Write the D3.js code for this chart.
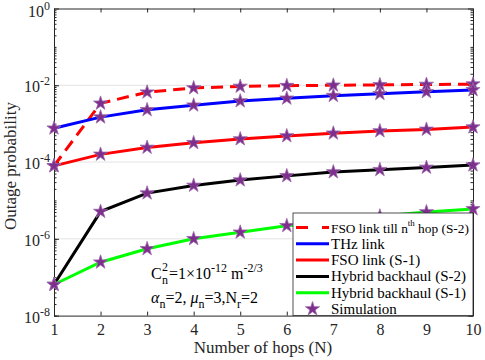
<!DOCTYPE html>
<html lang="en">
<head>
<meta charset="UTF-8">
<title>Outage probability vs number of hops</title>
<script src="https://d3js.org/d3.v7.min.js"></script>
<style>
  body { margin: 0; background: #fff; }
  svg, svg text { font-family: "Liberation Serif", "Times New Roman", Times, serif; }
</style>
</head>
<body>
<svg id="chart" width="485" height="360"></svg>
<script>
// Data (log10 of outage probability)
const hops = [1, 2, 3, 4, 5, 6, 7, 8, 9, 10];
const fsoTillN = [-4.10, -2.47, -2.18, -2.07, -2.03, -2.01, -2.00, -1.99, -1.98, -1.97];
const thzLink  = [-3.12, -2.83, -2.64, -2.52, -2.41, -2.34, -2.27, -2.22, -2.17, -2.12];
const fsoS1    = [-4.10, -3.80, -3.62, -3.50, -3.40, -3.32, -3.25, -3.19, -3.15, -3.09];
const hybS2    = [-7.19, -5.29, -4.81, -4.61, -4.47, -4.36, -4.26, -4.20, -4.14, -4.08];
const hybS1    = [-7.19, -6.61, -6.26, -6.00, -5.83, -5.66, -5.53, -5.41, -5.30, -5.22];
const yMajor = [-8, -6, -4, -2, 0];

const series = [
  { name: 'FSO link till n', sup: 'th', rest: ' hop (S-2)', vals: fsoTillN, color: '#ff0000', dash: '12,7' },
  { name: 'THz link', vals: thzLink, color: '#0000ff' },
  { name: 'FSO link (S-1)', vals: fsoS1, color: '#ff0000' },
  { name: 'Hybrid backhaul (S-2)', vals: hybS2, color: '#000000' },
  { name: 'Hybrid backhaul (S-1)', vals: hybS1, color: '#00ff00' }
];

const FONT = '"Liberation Serif", "Times New Roman", Times, serif';
const svg = d3.select('#chart').attr('font-family', FONT);
const pLeft = 54, pRight = 473, pTop = 8.5, pBottom = 315.6;

const x = d3.scaleLinear().domain([1, 10]).range([pLeft, pRight]);
const y = d3.scaleLog().domain([1e-8, 1]).range([pBottom, pTop]);

// grid lines at labelled decades
svg.append('g').selectAll('line')
  .data(yMajor.filter(d => d > -8 && d < 0))
  .enter().append('line')
  .attr('x1', pLeft).attr('x2', pRight)
  .attr('y1', d => y(Math.pow(10, d))).attr('y2', d => y(Math.pow(10, d)))
  .attr('stroke', '#e3e3e3').attr('stroke-width', 1);

// axes (ticks inward, box on)
const minor = [];
for (let e = -8; e < 0; e++) for (let m = 1; m < 10; m++) minor.push(m * Math.pow(10, e));

function styleAxis(g) {
  g.attr('font-family', FONT);
  g.select('.domain').attr('stroke', '#262626');
  g.selectAll('.tick line').attr('stroke', '#262626');
}

svg.append('g').attr('transform', `translate(0,${pBottom})`)
  .call(d3.axisBottom(x).tickValues(hops).tickSize(-4).tickSizeOuter(0).tickPadding(8).tickFormat(d3.format('d')))
  .call(styleAxis)
  .call(g => g.selectAll('text').attr('font-size', 16).attr('fill', '#262626'));

svg.append('g').attr('transform', `translate(0,${pTop})`)
  .call(d3.axisTop(x).tickValues(hops).tickSize(-4).tickSizeOuter(0).tickFormat(''))
  .call(styleAxis);

svg.append('g').attr('transform', `translate(${pLeft},0)`)
  .call(d3.axisLeft(y).tickValues(minor).tickSize(-2.5).tickSizeOuter(0).tickFormat(''))
  .call(styleAxis);
svg.append('g').attr('transform', `translate(${pRight},0)`)
  .call(d3.axisRight(y).tickValues(minor).tickSize(-2.5).tickSizeOuter(0).tickFormat(''))
  .call(styleAxis);
svg.append('g').attr('transform', `translate(${pLeft},0)`)
  .call(d3.axisLeft(y).tickValues(yMajor.map(d => Math.pow(10, d))).tickSize(-5).tickSizeOuter(0).tickFormat(''))
  .call(styleAxis);
svg.append('g').attr('transform', `translate(${pRight},0)`)
  .call(d3.axisRight(y).tickValues(yMajor.map(d => Math.pow(10, d))).tickSize(-5).tickSizeOuter(0).tickFormat(''))
  .call(styleAxis);

// y tick labels 10^k
const yl = svg.append('g').selectAll('text').data(yMajor).enter().append('text')
  .attr('x', pLeft - 4).attr('y', d => y(Math.pow(10, d)) + (d === 0 ? 8 : 7))
  .attr('text-anchor', 'end').attr('font-size', 16).attr('fill', '#262626');
yl.append('tspan').text('10');
yl.append('tspan').attr('dy', -7).attr('font-size', 12).text(d => d);

// curves
const line = d3.line().x((d, i) => x(hops[i])).y(d => y(Math.pow(10, d)));
series.forEach(s => {
  svg.append('path').datum(s.vals)
    .attr('d', line).attr('fill', 'none')
    .attr('stroke', s.color).attr('stroke-width', 3)
    .attr('stroke-dasharray', s.dash || null);
});

// simulation markers
const star = d3.symbol().type(d3.symbolStar).size(62);
series.forEach(s => {
  svg.append('g').selectAll('path').data(s.vals).enter().append('path')
    .attr('d', star)
    .attr('transform', (d, i) => `translate(${x(hops[i])},${y(Math.pow(10, d))})`)
    .attr('fill', '#7e2f8e').attr('stroke', '#9a68aa').attr('stroke-width', 0.8);
});

// annotation
const ann = svg.append('g').attr('font-size', 16).attr('fill', '#000');
ann.append('text').attr('x', 151).attr('y', 279).text('C');
ann.append('text').attr('x', 162).attr('y', 271).attr('font-size', 12).text('2');
ann.append('text').attr('x', 162).attr('y', 284).attr('font-size', 12).text('n');
const t1 = ann.append('text').attr('x', 169).attr('y', 279);
t1.append('tspan').text('=1\u00d710');
t1.append('tspan').attr('dy', -7).attr('font-size', 12).text('-12');
t1.append('tspan').attr('dy', 7).text(' m');
t1.append('tspan').attr('dy', -7).attr('font-size', 12).text('-2/3');

const t2 = ann.append('text').attr('x', 151).attr('y', 303);
t2.append('tspan').attr('font-style', 'italic').text('\u03b1');
t2.append('tspan').attr('dy', 5).attr('font-size', 12).text('n');
t2.append('tspan').attr('dy', -5).text('=2, ');
t2.append('tspan').attr('font-style', 'italic').text('\u03bc');
t2.append('tspan').attr('dy', 5).attr('font-size', 12).text('n');
t2.append('tspan').attr('dy', -5).text('=3,N');
t2.append('tspan').attr('dy', 5).attr('font-size', 12).text('r');
t2.append('tspan').attr('dy', -5).text('=2');

// axis titles
svg.append('text').attr('x', 263).attr('y', 353).attr('text-anchor', 'middle')
  .attr('font-size', 17).attr('fill', '#262626').text('Number of hops (N)');
svg.append('text').attr('transform', 'translate(16,166) rotate(-90)').attr('text-anchor', 'middle')
  .attr('font-size', 17).attr('fill', '#262626').text('Outage probability');

// legend
const lg = svg.append('g');
const lgX = 293, lgY = 213, rowH = 16.3;
const textX = lgX + 38, maxW = pRight - 4 - textX;
lg.append('rect').attr('x', lgX).attr('y', lgY).attr('width', pRight - lgX).attr('height', pBottom - lgY)
  .attr('fill', '#fff').attr('stroke', '#262626').attr('stroke-width', 0.8);
series.forEach((s, i) => {
  const cy = lgY + 14.5 + i * rowH;
  lg.append('line').attr('x1', lgX + 3).attr('x2', lgX + 36).attr('y1', cy).attr('y2', cy)
    .attr('stroke', s.color).attr('stroke-width', 3).attr('stroke-dasharray', s.dash ? '12,14' : null);
  const t = lg.append('text').attr('class', 'lgtext').attr('x', textX).attr('y', cy + 5).attr('font-size', 15).attr('fill', '#000');
  t.append('tspan').text(s.name);
  if (s.sup) {
    t.append('tspan').attr('class', 'sup').attr('dy', -7).attr('font-size', 10).text(s.sup);
    t.append('tspan').attr('dy', 7).text(s.rest);
  }
});
const simY = lgY + 14.5 + 5 * rowH;
lg.append('path').attr('d', star).attr('transform', `translate(${lgX + 19.5},${simY})`)
  .attr('fill', '#7e2f8e').attr('stroke', '#9a68aa').attr('stroke-width', 0.8);
lg.append('text').attr('x', textX).attr('y', simY + 5).attr('font-size', 15).text('Simulation');

// keep legend entries inside the box by shrinking the font of a too-long entry
lg.selectAll('.lgtext').each(function () {
  const w = this.getComputedTextLength();
  if (w > maxW) {
    const k = maxW / w;
    d3.select(this).attr('font-size', 15 * k);
    d3.select(this).selectAll('.sup').attr('font-size', 10 * k);
  }
});
</script>
</body>
</html>
